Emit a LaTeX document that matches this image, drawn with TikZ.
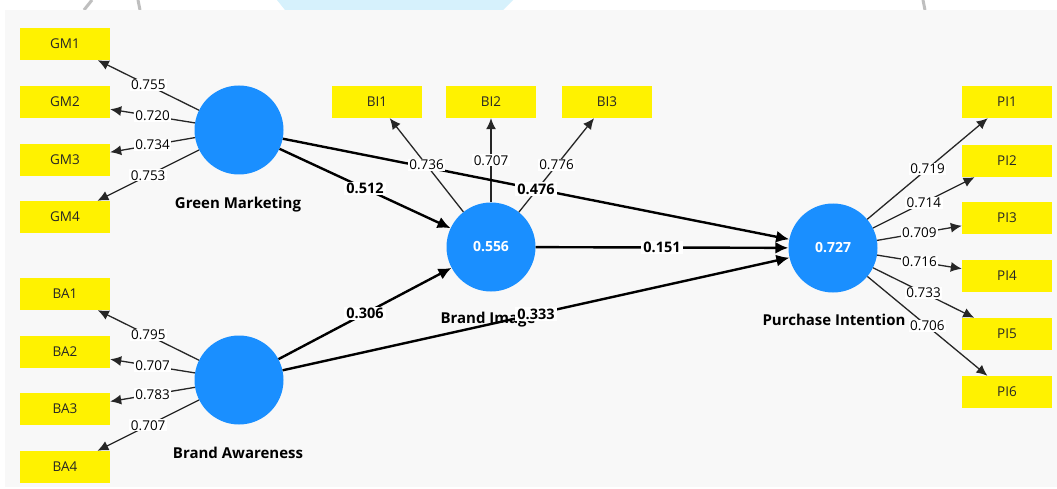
\documentclass[tikz,border=0pt]{standalone}
\usepackage{fontspec}
\setmainfont{Open Sans}
\usetikzlibrary{arrows.meta}
\definecolor{panel}{HTML}{F8F8F8}
\definecolor{cblue}{HTML}{1A8FFF}
\definecolor{wm}{HTML}{D6F1FC}
\begin{document}
\begin{tikzpicture}[x=1pt,y=-1pt,
  ind/.style={rectangle, fill=yellow, minimum width=90pt, minimum height=32pt, inner sep=0pt, text=black!85, font=\fontsize{13.5}{15}\selectfont},
  lv/.style={circle, fill=cblue, minimum size=89pt, inner sep=0pt, text=white, font=\bfseries\fontsize{14}{16}\selectfont},
  lvname/.style={anchor=base, inner sep=0pt, font=\bfseries\fontsize{15}{17}\selectfont},
  load/.style={line width=1.3pt, draw=black!85, -{Latex[length=11pt,width=10pt]}},
  struct/.style={line width=2.4pt, draw=black, -{Latex[length=13pt,width=12pt]}},
  lbl/.style={fill=white, inner xsep=1.5pt, inner ysep=1pt, font=\fontsize{13.5}{15}\selectfont},
  blbl/.style={fill=white, inner xsep=2.5pt, inner ysep=1.5pt, font=\bfseries\fontsize{14.5}{16}\selectfont},
]
\useasboundingbox (0,0) rectangle (1057,489);
\fill[white] (0,0) rectangle (1057,489);
\fill[wm] (277,0) -- (513,0) -- (503,10) -- (285,10) -- cycle;
\draw[black!25, line width=3pt] (84,10) -- (92,0);
\draw[black!25, line width=3pt] (140,10) -- (138,0);
\draw[black!25, line width=3pt] (925,10) -- (923,0);
\fill[panel] (5,10) rectangle (1057,487);

% latent variables
\node[lv] (GM) at (239,130) {};
\node[lv] (BA) at (239,380) {};
\node[lv] (BI) at (491,247) {0.556};
\node[lv] (PI) at (833,248) {0.727};

\node[lvname] (GMn) at (238,208) {Green Marketing};
\node[lvname] (BAn) at (238,458) {Brand Awareness};
\node[lvname] (BIn) at (488,323) {Brand Image};
\node[lvname] (PIn) at (834,325) {Purchase Intention};

% indicators
\node[ind] (GM1) at (65,44) {GM1};
\node[ind] (GM2) at (65,102) {GM2};
\node[ind] (GM3) at (65,160) {GM3};
\node[ind] (GM4) at (65,217) {GM4};
\node[ind] (BA1) at (65,294) {BA1};
\node[ind] (BA2) at (65,352) {BA2};
\node[ind] (BA3) at (65,409) {BA3};
\node[ind] (BA4) at (65,467) {BA4};
\node[ind] (BI1) at (377,102) {BI1};
\node[ind] (BI2) at (491,102) {BI2};
\node[ind] (BI3) at (607,102) {BI3};
\node[ind] (PI1) at (1007,102) {PI1};
\node[ind] (PI2) at (1007,161) {PI2};
\node[ind] (PI3) at (1007,218) {PI3};
\node[ind] (PI4) at (1007,276) {PI4};
\node[ind] (PI5) at (1007,334) {PI5};
\node[ind] (PI6) at (1007,392) {PI6};

% loadings
\draw[load] (GM) -- coordinate[midway] (lg1) (GM1);
\draw[load] (GM) -- coordinate[midway] (lg2) (GM2);
\draw[load] (GM) -- coordinate[midway] (lg3) (GM3);
\draw[load] (GM) -- coordinate[midway] (lg4) (GM4);
\draw[load] (BA) -- coordinate[midway] (la1) (BA1);
\draw[load] (BA) -- coordinate[midway] (la2) (BA2);
\draw[load] (BA) -- coordinate[midway] (la3) (BA3);
\draw[load] (BA) -- coordinate[midway] (la4) (BA4);
\draw[load] (BI) -- coordinate[midway] (lb1) (BI1);
\draw[load] (BI) -- coordinate[midway] (lb2) (BI2);
\draw[load] (BI) -- coordinate[midway] (lb3) (BI3);
\draw[load] (PI) -- coordinate[midway] (lp1) (PI1);
\draw[load] (PI) -- coordinate[midway] (lp2) (PI2);
\draw[load] (PI) -- coordinate[midway] (lp3) (PI3);
\draw[load] (PI) -- coordinate[midway] (lp4) (PI4);
\draw[load] (PI) -- coordinate[midway] (lp5) (PI5);
\draw[load] (PI) -- coordinate[midway] (lp6) (PI6);

% structural paths
\draw[struct] (GM) -- coordinate[midway] (s1) (BI);
\draw[struct] (GM) -- coordinate[midway] (s2) (PI);
\draw[struct] (BA) -- coordinate[midway] (s3) (BI);
\draw[struct] (BA) -- coordinate[midway] (s4) (PI);
\draw[struct] (BI) -- coordinate[midway] (s5) (PI);

% labels
\node[lbl] at (lg1) {0.755};
\node[lbl] at (lg2) {0.720};
\node[lbl] at (lg3) {0.734};
\node[lbl] at (lg4) {0.753};
\node[lbl] at (la1) {0.795};
\node[lbl] at (la2) {0.707};
\node[lbl] at (la3) {0.783};
\node[lbl] at (la4) {0.707};
\node[lbl] at (lb1) {0.736};
\node[lbl] at (lb2) {0.707};
\node[lbl] at (lb3) {0.776};
\node[lbl] at (lp1) {0.719};
\node[lbl] at (lp2) {0.714};
\node[lbl] at (lp3) {0.709};
\node[lbl] at (lp4) {0.716};
\node[lbl] at (lp5) {0.733};
\node[lbl] at (lp6) {0.706};
\node[blbl] at (s1) {0.512};
\node[blbl] at (s2) {0.476};
\node[blbl] at (s3) {0.306};
\node[blbl] at (s4) {0.333};
\node[blbl] at (s5) {0.151};
\end{tikzpicture}
\end{document}
